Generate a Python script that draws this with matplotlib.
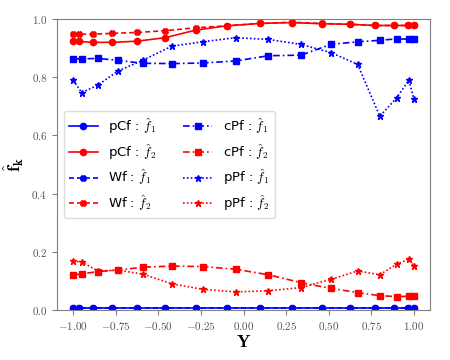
import matplotlib
matplotlib.use('Agg')
import matplotlib.pyplot as plt
from matplotlib.ticker import FuncFormatter

plt.rcParams['mathtext.fontset'] = 'cm'
plt.rcParams['font.family'] = 'DejaVu Sans'

# nodes used by pCf / Wf
y_a = [-1.0, -0.965, -0.885, -0.770, -0.626, -0.460, -0.282, -0.095,
       0.095, 0.282, 0.460, 0.626, 0.770, 0.885, 0.965, 1.0]
# nodes used by cPf / pPf
y_b = [-1.0, -0.95, -0.855, -0.738, -0.59, -0.42, -0.24, -0.046,
       0.146, 0.337, 0.513, 0.67, 0.80, 0.90, 0.97, 1.0]

pCf_f1 = [0.008] * 16
pCf_f2 = [0.925, 0.923, 0.920, 0.920, 0.924, 0.936, 0.962, 0.977,
          0.985, 0.988, 0.984, 0.982, 0.978, 0.978, 0.978, 0.978]
Wf_f1 = [0.008] * 16
Wf_f2 = [0.948, 0.948, 0.948, 0.951, 0.954, 0.960, 0.970, 0.977,
         0.985, 0.989, 0.985, 0.982, 0.978, 0.978, 0.978, 0.978]
cPf_f1 = [0.863, 0.863, 0.865, 0.858, 0.848, 0.847, 0.849, 0.856,
          0.874, 0.876, 0.913, 0.922, 0.927, 0.932, 0.931, 0.931]
cPf_f2 = [0.120, 0.124, 0.132, 0.137, 0.147, 0.151, 0.149, 0.140,
          0.121, 0.094, 0.074, 0.060, 0.049, 0.046, 0.047, 0.047]
pPf_f1 = [0.790, 0.747, 0.773, 0.821, 0.859, 0.907, 0.922, 0.936,
          0.930, 0.913, 0.885, 0.844, 0.666, 0.730, 0.790, 0.726]
pPf_f2 = [0.168, 0.165, 0.134, 0.137, 0.123, 0.090, 0.071, 0.062,
          0.066, 0.077, 0.105, 0.134, 0.121, 0.158, 0.174, 0.152]

lab = r'$\hat{f}_%d$'

fig = plt.figure(figsize=(4.5, 3.6), dpi=100)
ax = fig.add_axes([0.1267, 0.139, 0.829, 0.808])

lw = 1.2
dash = (0, (3.0, 1.8))
dashdot = (0, (4.0, 1.8, 1.0, 1.8))
dot = (0, (1.0, 1.3))
ax.plot(y_a, pCf_f1, '-', color='blue', marker='o', ms=4.5, lw=lw, label='pCf : ' + lab % 1)
ax.plot(y_a, pCf_f2, '-', color='red', marker='o', ms=4.5, lw=lw, label='pCf : ' + lab % 2)
ax.plot(y_a, Wf_f1, ls=dash, color='blue', marker='X', ms=4, lw=lw, label='Wf : ' + lab % 1)
ax.plot(y_a, Wf_f2, ls=dash, color='red', marker='X', ms=4, lw=lw, label='Wf : ' + lab % 2)
ax.plot(y_b, cPf_f1, ls=dashdot, color='blue', marker='s', ms=4.5, lw=lw, label='cPf : ' + lab % 1)
ax.plot(y_b, cPf_f2, ls=dashdot, color='red', marker='s', ms=4.5, lw=lw, label='cPf : ' + lab % 2)
ax.plot(y_b, pPf_f1, ls=dot, color='blue', marker='*', ms=4.5, lw=lw, label='pPf : ' + lab % 1)
ax.plot(y_b, pPf_f2, ls=dot, color='red', marker='*', ms=4.5, lw=lw, label='pPf : ' + lab % 2)

ax.set_xlim(-1.095, 1.095)
ax.set_ylim(0, 1)
ax.set_xticks([-1, -0.75, -0.5, -0.25, 0, 0.25, 0.5, 0.75, 1])
ax.set_yticks([0, 0.2, 0.4, 0.6, 0.8, 1.0])
ax.xaxis.set_major_formatter(FuncFormatter(lambda v, p: '$%.2f$' % v))
ax.yaxis.set_major_formatter(FuncFormatter(lambda v, p: '$%.1f$' % v))
ax.tick_params(labelsize=8, color='gray', labelcolor='#555555')
for s in ax.spines.values():
    s.set_color('gray')

ax.set_xlabel(r'$\mathbf{Y}$', fontsize=13, labelpad=1)
ax.set_ylabel(r'$\hat{\mathbf{f}}_\mathbf{k}$', fontsize=13, labelpad=4)

ax.legend(loc='center left', ncol=2, fontsize=9.5, handlelength=2.2,
          columnspacing=2.0, labelspacing=0.45, framealpha=1, edgecolor='#dddddd')

fig.savefig('out.png', dpi=100)
